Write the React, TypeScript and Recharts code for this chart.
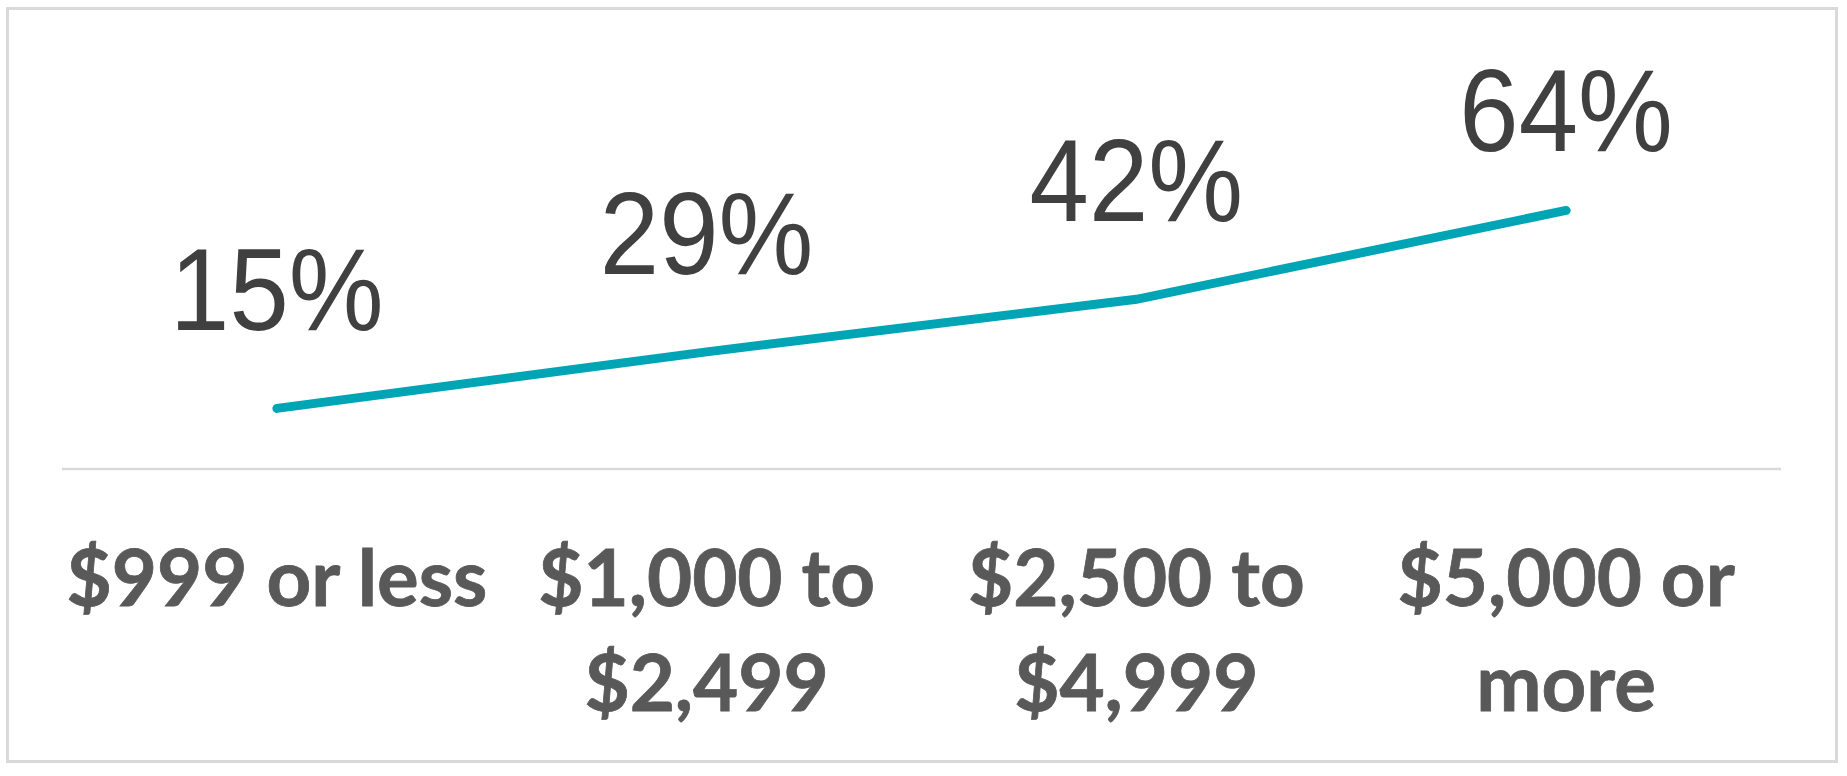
import React from "react";
import { LineChart, Line, XAxis, YAxis } from "recharts";

const categories = ["$999 or less", "$1,000 to $2,499", "$2,500 to $4,999", "$5,000 or more"];
const tickLines = [["$999 or less"], ["$1,000 to", "$2,499"], ["$2,500 to", "$4,999"], ["$5,000 or", "more"]];
const shares = [15, 29, 42, 64];

const data = categories.map((name, i) => ({ name, share: shares[i] }));

const W = 1847;
const H = 776;
const PLOT_TOP = 65;
const LABEL_SIZE = 116;

function CategoryTick(props: any) {
  const { x, y, index } = props;
  const lines = tickLines[index] || [props.payload.value];
  return (
    <text
      x={x}
      y={y + 137}
      textAnchor="middle"
      fill="#595959"
      fontFamily="Lato, 'Open Sans', sans-serif"
      fontWeight="bold"
      fontSize={78}
      stroke="#595959"
      strokeWidth={0.8}
    >
      {lines.map((line, i) => (
        <tspan key={i} x={x} dy={i === 0 ? 0 : 105}>
          {line}
        </tspan>
      ))}
    </text>
  );
}

function ValueLabel(props: any) {
  const { x, y, value } = props;
  // keep the top label inside the frame
  const baseline = Math.max(y - 78, PLOT_TOP + LABEL_SIZE * 0.74);
  return (
    <text
      transform={`translate(${x}, ${baseline}) scale(0.92, 1)`}
      textAnchor="middle"
      fill="#404040"
      fontFamily="'Liberation Sans', Arial, sans-serif"
      fontSize={LABEL_SIZE}
    >
      {value}%
    </text>
  );
}

export default function App() {
  return (
    <div style={{ position: "relative", width: W, height: H, background: "#FFFFFF" }}>
      <style>{`body { margin: 0; }`}</style>
      <div
        style={{
          position: "absolute",
          left: 6,
          top: 7,
          width: 1832,
          height: 756,
          border: "3px solid #D9D9D9",
          boxSizing: "border-box",
        }}
      />
      <div style={{ position: "absolute", left: 0, top: 0 }}>
        <LineChart width={W} height={H} data={data} margin={{ top: PLOT_TOP, right: 66, bottom: 107, left: 62 }}>
          <XAxis
            dataKey="name"
            scale="band"
            height={200}
            tickLine={false}
            tickSize={0}
            tickMargin={0}
            interval={0}
            axisLine={{ stroke: "#D9D9D9", strokeWidth: 2.5 }}
            tick={(p: any) => <CategoryTick {...p} />}
          />
          <YAxis hide width={0} domain={[0, 100]} />
          <Line
            dataKey="share"
            type="linear"
            stroke="#00A5B5"
            strokeWidth={9}
            strokeLinecap="round"
            dot={false}
            activeDot={false}
            isAnimationActive={false}
            label={(p: any) => <ValueLabel key={p.index} {...p} />}
          />
        </LineChart>
      </div>
    </div>
  );
}
